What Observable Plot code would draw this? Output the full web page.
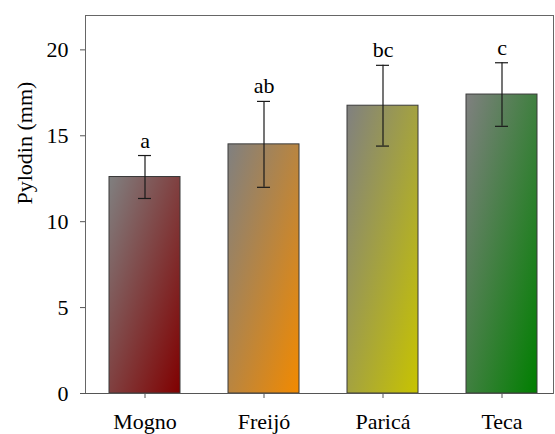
<!DOCTYPE html>
<html>
<head>
<meta charset="utf-8">
<script src="https://cdn.jsdelivr.net/npm/d3@7"></script>
<script src="https://cdn.jsdelivr.net/npm/@observablehq/plot@0.6"></script>
<style>
  html, body { margin: 0; padding: 0; background: #fff; }
  svg { display: block; }
</style>
</head>
<body>
<div id="chart"></div>
<script>
const species = ["Mogno", "Freijó", "Paricá", "Teca"];
const means = [12.6, 14.5, 16.75, 17.4];
const errors = [1.25, 2.5, 2.35, 1.85];
const letters = ["a", "ab", "bc", "c"];
const endColors = ["#800000", "#f28a00", "#c8c400", "#007f00"];
const yTicks = [0, 5, 10, 15, 20];

const data = species.map((s, i) => ({
  species: s, mean: means[i], lo: means[i] - errors[i], hi: means[i] + errors[i],
  letter: letters[i], grad: `url(#barGrad${i})`
}));

const defsMark = () => {
  const defs = d3.create("svg:defs");
  endColors.forEach((c, i) => {
    const g = defs.append("linearGradient").attr("id", `barGrad${i}`)
      .attr("x1", "0").attr("y1", "0").attr("x2", "1").attr("y2", "1");
    g.append("stop").attr("offset", "0").attr("stop-color", "#808080");
    g.append("stop").attr("offset", "1").attr("stop-color", c);
  });
  return defs.node();
};

const plot = Plot.plot({
  width: 555,
  height: 434,
  marginLeft: 85,
  marginRight: 2,
  marginTop: 15,
  marginBottom: 41,
  style: { fontFamily: "'Liberation Serif', serif", fontSize: "22px" },
  x: { domain: species, range: [85, 561], paddingInner: 0.4, paddingOuter: 0.2, label: null },
  y: { domain: [0, 22], label: null },
  marks: [
    defsMark,
    Plot.frame({ stroke: "#666" }),
    Plot.barY(data, { x: "species", y: "mean", fill: "grad", stroke: "#3a3a3a", strokeWidth: 1 }),
    Plot.ruleX(data, { x: "species", y1: "lo", y2: "hi", stroke: "#1a1a1a", strokeWidth: 1.2 }),
    Plot.tickY(data, { x: "species", y: "hi", stroke: "#1a1a1a", strokeWidth: 1.2, insetLeft: 29, insetRight: 29 }),
    Plot.tickY(data, { x: "species", y: "lo", stroke: "#1a1a1a", strokeWidth: 1.2, insetLeft: 29, insetRight: 29 }),
    Plot.text(data, { x: "species", y: "hi", text: "letter", dy: -15, fontSize: 22, fill: "#000" }),
    Plot.axisY({ ticks: yTicks, tickSize: 5, tickPadding: 12, label: null, fontSize: 22, stroke: "#555" }),
    Plot.axisX({ tickSize: 5, tickPadding: 15, label: null, fontSize: 22, stroke: "#555" }),
    Plot.ruleY([0], { stroke: "#555" }),
    Plot.ruleX([0], { x: () => null, frameAnchor: "left", stroke: "#555" }),
    Plot.text(["Pylodin (mm)"], { frameAnchor: "left", dx: -61, rotate: -90, fontSize: 22, fill: "#000" })
  ]
});
document.getElementById("chart").appendChild(plot);
// force style resolution so the serif face is applied before the snapshot
let probe = "";
plot.querySelectorAll("text").forEach(t => { probe += getComputedStyle(t).fontFamily; t.getBBox(); });
document.body.dataset.ff = probe.length;
</script>
</body>
</html>
